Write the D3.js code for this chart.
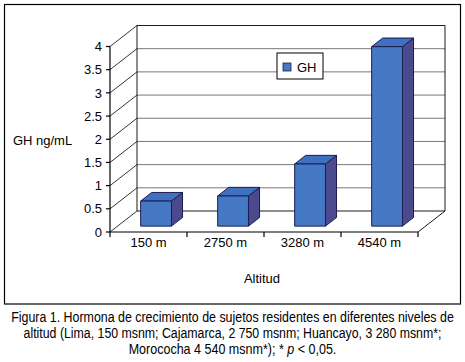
<!DOCTYPE html>
<html>
<head>
    <script src="https://d3js.org/d3.v7.min.js"></script>
    <style>
        body { margin: 0; background: #fff; }
        text { font-family: "Liberation Sans", Arial, sans-serif; fill: #000; }
        .caption { font-size: 14px; }
    </style>
</head>
<body>
    <div id="chart"></div>
    <script>
        // data
        const categories = ["150 m", "2750 m", "3280 m", "4540 m"];
        const ghValues = [0.54, 0.65, 1.34, 3.87];
        const yTicks = [0, 0.5, 1, 1.5, 2, 2.5, 3, 3.5, 4];
        const captionLines = [
            "Figura 1. Hormona de crecimiento de sujetos residentes en diferentes niveles de",
            "altitud (Lima, 150 msnm; Cajamarca, 2 750 msnm; Huancayo, 3 280 msnm*;",
            "Morococha 4 540 msnm*); * p < 0,05."
        ];

        const W = 465, H = 362;
        const svg = d3.select("#chart").append("svg").attr("width", W).attr("height", H);

        // front plane of the 3d box and depth offset
        const x0 = 110, x1 = 418, yBase = 232, yTop = 46.5;
        const dX = 27, dY = -21;
        const depthFront = 0.28, depthBack = 0.69;

        const x = d3.scaleBand().domain(categories).range([x0, x1]).paddingInner(0.6).paddingOuter(0.3);
        const y = d3.scaleLinear().domain([0, 4]).range([yBase, yTop]);

        // outer border
        svg.append("rect").attr("x", 4.5).attr("y", 4.5).attr("width", 456).attr("height", 299.5)
            .attr("fill", "none").attr("stroke", "#000").attr("stroke-width", 1.2);

        // back wall gridlines
        svg.selectAll(".grid").data(yTicks.slice(1, -1)).enter().append("line")
            .attr("x1", x0 + dX).attr("x2", x1 + dX)
            .attr("y1", d => y(d) + dY).attr("y2", d => y(d) + dY)
            .attr("stroke", "#777").attr("stroke-width", 1);

        // left wall diagonals
        svg.selectAll(".diag").data(yTicks).enter().append("line")
            .attr("x1", x0).attr("x2", x0 + dX)
            .attr("y1", d => y(d)).attr("y2", d => y(d) + dY)
            .attr("stroke", "#000").attr("stroke-width", 0.8);

        // back wall box + floor
        const box = d3.path();
        box.moveTo(x0 + dX, y(4) + dY); box.lineTo(x1 + dX, y(4) + dY);
        box.lineTo(x1 + dX, y(0) + dY); box.lineTo(x0 + dX, y(0) + dY); box.closePath();
        box.moveTo(x1 + dX, y(0) + dY); box.lineTo(x1, y(0));
        svg.append("path").attr("d", box.toString()).attr("fill", "none").attr("stroke", "#000").attr("stroke-width", 0.9);

        // front axes
        svg.append("line").attr("x1", x0).attr("x2", x0).attr("y1", y(0)).attr("y2", y(4))
            .attr("stroke", "#000").attr("stroke-width", 1.2);
        svg.append("line").attr("x1", x0).attr("x2", x1).attr("y1", y(0)).attr("y2", y(0))
            .attr("stroke", "#000").attr("stroke-width", 1.2);

        // y ticks and labels
        svg.selectAll(".ytick").data(yTicks).enter().append("line")
            .attr("x1", x0 - 4).attr("x2", x0).attr("y1", d => y(d)).attr("y2", d => y(d))
            .attr("stroke", "#000").attr("stroke-width", 1.2);
        svg.selectAll(".ylab").data(yTicks).enter().append("text")
            .attr("x", x0 - 8).attr("y", d => y(d)).attr("dy", "0.36em")
            .attr("text-anchor", "end").style("font-size", "13px")
            .text(d => d);

        // x ticks between categories
        const xEdges = [x0].concat(categories.map(c => x(c) + x.bandwidth() + x.step() * 0.3));
        svg.selectAll(".xtick").data(xEdges).enter().append("line")
            .attr("x1", d => d).attr("x2", d => d).attr("y1", y(0)).attr("y2", y(0) + 5)
            .attr("stroke", "#000").attr("stroke-width", 1.2);
        svg.selectAll(".xlab").data(categories).enter().append("text")
            .attr("x", d => x(d) + x.bandwidth() / 2).attr("y", 247)
            .attr("text-anchor", "middle").style("font-size", "13px")
            .text(d => d);

        // bars
        const front = "#4579c4", topC = "#4071c0", side = "#4b4a8e", edge = "#1b1d4e";
        const fx = depthFront * dX, fy = depthFront * dY;
        const bx = (depthBack - depthFront) * dX, by = (depthBack - depthFront) * dY;
        categories.forEach((c, i) => {
            const left = x(c) + fx, right = left + x.bandwidth();
            const top = y(ghValues[i]) + fy, base = y(0) + fy;
            const g = svg.append("g").attr("stroke", edge).attr("stroke-width", 1).attr("stroke-linejoin", "round");
            g.append("path").attr("fill", side)
                .attr("d", `M${right},${base}L${right + bx},${base + by}L${right + bx},${top + by}L${right},${top}Z`);
            g.append("path").attr("fill", topC)
                .attr("d", `M${left},${top}L${left + bx},${top + by}L${right + bx},${top + by}L${right},${top}Z`);
            g.append("rect").attr("fill", front)
                .attr("x", left).attr("y", top).attr("width", right - left).attr("height", base - top);
        });

        // legend
        const leg = svg.append("g").attr("transform", "translate(277,53)");
        leg.append("rect").attr("width", 46).attr("height", 26).attr("fill", "#fff")
            .attr("stroke", "#000").attr("stroke-width", 1);
        leg.append("rect").attr("x", 6).attr("y", 10).attr("width", 8).attr("height", 8)
            .attr("fill", front).attr("stroke", edge).attr("stroke-width", 0.8);
        leg.append("text").attr("x", 20).attr("y", 14).attr("dy", "0.36em")
            .style("font-size", "13px").text("GH");

        // axis titles
        svg.append("text").attr("x", 42.5).attr("y", 140).attr("dy", "0.36em")
            .attr("text-anchor", "middle").style("font-size", "13px").text("GH ng/mL");
        svg.append("text").attr("x", 262).attr("y", 283)
            .attr("text-anchor", "middle").style("font-size", "13px").text("Altitud");

        // caption (narrow face: squeeze the regular font horizontally)
        const capY = [322, 338, 354];
        const capW = [443, 418, 208];
        captionLines.forEach((line, i) => {
            const t = svg.append("text").attr("class", "caption")
                .attr("x", 0).attr("y", 0).attr("text-anchor", "middle");
            if (i === 2) {
                const parts = line.split(" p ");
                t.append("tspan").text(parts[0] + " ");
                t.append("tspan").style("font-style", "italic").text("p");
                t.append("tspan").text(" " + parts[1]);
            } else {
                t.text(line);
            }
            const s = capW[i] / t.node().getComputedTextLength();
            t.attr("transform", `translate(232.5,${capY[i]}) scale(${s},1)`);
        });
    </script>
</body>
</html>
